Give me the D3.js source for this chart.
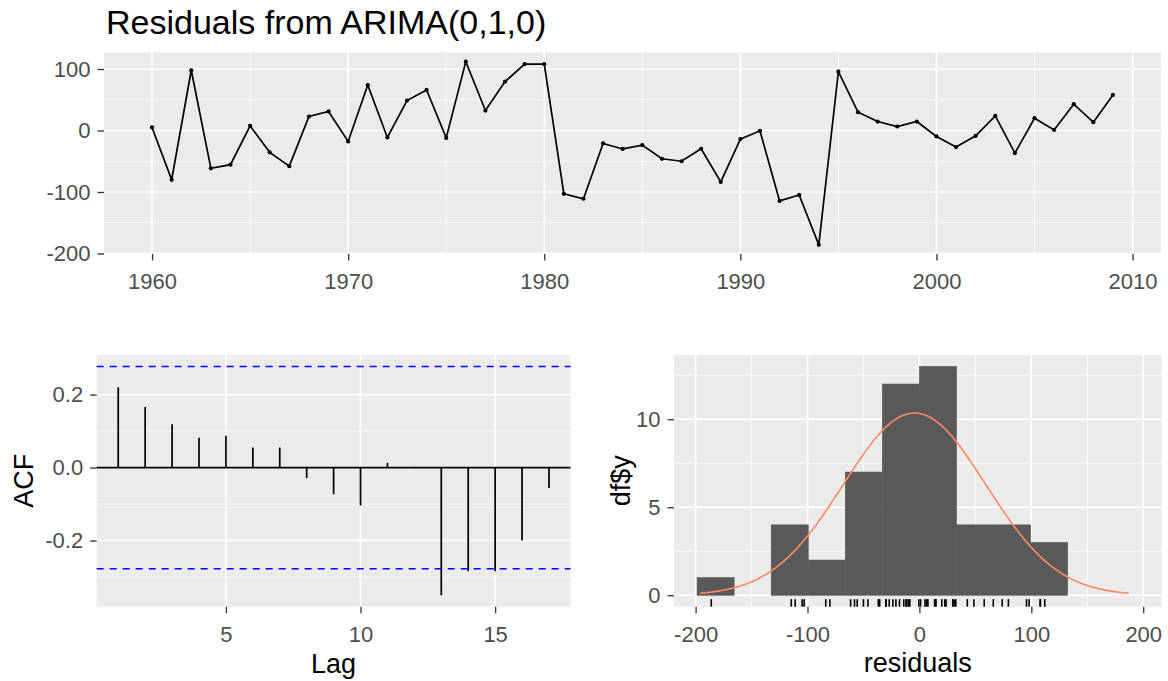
<!DOCTYPE html>
<html>
<head>
<meta charset="utf-8">
<script src="https://cdn.jsdelivr.net/npm/d3@7"></script>
<style>
  body { margin: 0; background: #fff; }
  text { font-family: "Liberation Sans", Arial, sans-serif; }
</style>
</head>
<body>
<svg id="chart" width="1168" height="681"></svg>
<script>
// Residuals from ARIMA(0,1,0), one per year starting 1960
const startYear = 1960;
const residuals = [
  5, -80, 98, -61.5, -55.6, 7.6, -35.5, -58, 22.7, 31,
  -17.8, 74, -11.3, 48.7, 66, -12, 112, 32.5, 79.5, 108,
  108, -103, -111, -21, -30, -23.7, -46, -50, -29.7, -83.7,
  -14, -0.5, -114.5, -104.8, -186, 95.7, 29.8, 14.6, 6.5, 14.6,
  -9.7, -27, -8.6, 23.8, -36.7, 20, 1, 42.8, 13.6, 57.9
];

// ACF of residuals, lags 1..17
const acfLags = [1, 2, 3, 4, 5, 6, 7, 8, 9, 10, 11, 12, 13, 14, 15, 16, 17];
const acfValues = [
  0.22, 0.166, 0.119, 0.082, 0.087, 0.055, 0.055, -0.029, -0.073, -0.104,
  0.013, 0.002, -0.35, -0.284, -0.284, -0.2, -0.056
];

// histogram settings (number of bins over the data range, bins start at 0)
const binCount = 9;
const binBoundary = 0;
const histXLimits = [-219.3, 216.5];

// tick labels
const topXTicks = [1960, 1970, 1980, 1990, 2000, 2010];
const topXMinor = [1965, 1975, 1985, 1995, 2005];
const topYTicks = [-200, -100, 0, 100];
const topYMinor = [-150, -50, 50];
const acfXTicks = [5, 10, 15];
const acfYTicks = [-0.2, 0, 0.2];
const acfYMinor = [-0.3, -0.1, 0.1, 0.3];
const histXTicks = [-200, -100, 0, 100, 200];
const histXMinor = [-150, -50, 50, 150];
const histYTicks = [0, 5, 10];
const histYMinor = [2.5, 7.5, 12.5];

const svg = d3.select("#chart");
svg.append("rect").attr("width", 1168).attr("height", 681).attr("fill", "#fff");

const tickFont = "22px";
const titleFont = "27px";

// ggplot-like 5% expansion
function expand(ext) {
  const pad = (ext[1] - ext[0]) * 0.05;
  return [ext[0] - pad, ext[1] + pad];
}

function drawPanel(box, x, y, xMajor, xMinor, yMajor, yMinor) {
  const g = svg.append("g");
  g.append("rect")
    .attr("x", box.x0).attr("y", box.y0)
    .attr("width", box.x1 - box.x0).attr("height", box.y1 - box.y0)
    .attr("fill", "#EBEBEB");

  // minor grid
  g.selectAll(".hminor").data(yMinor).join("line")
    .attr("x1", box.x0).attr("x2", box.x1)
    .attr("y1", d => y(d)).attr("y2", d => y(d))
    .attr("stroke", "#fff").attr("stroke-width", 0.8);
  g.selectAll(".vminor").data(xMinor).join("line")
    .attr("y1", box.y0).attr("y2", box.y1)
    .attr("x1", d => x(d)).attr("x2", d => x(d))
    .attr("stroke", "#fff").attr("stroke-width", 0.8);
  // major grid
  g.selectAll(".hmajor").data(yMajor).join("line")
    .attr("x1", box.x0).attr("x2", box.x1)
    .attr("y1", d => y(d)).attr("y2", d => y(d))
    .attr("stroke", "#fff").attr("stroke-width", 1.6);
  g.selectAll(".vmajor").data(xMajor).join("line")
    .attr("y1", box.y0).attr("y2", box.y1)
    .attr("x1", d => x(d)).attr("x2", d => x(d))
    .attr("stroke", "#fff").attr("stroke-width", 1.6);

  // axes
  const xAxis = svg.append("g")
    .attr("transform", `translate(0,${box.y1})`)
    .call(d3.axisBottom(x).tickValues(xMajor).tickSize(6.5).tickPadding(13).tickFormat(d3.format("")));
  const yAxis = svg.append("g")
    .attr("transform", `translate(${box.x0},0)`)
    .call(d3.axisLeft(y).tickValues(yMajor).tickSize(6.5).tickPadding(7));
  [xAxis, yAxis].forEach(a => {
    a.select(".domain").remove();
    a.selectAll("line").attr("stroke", "#333").attr("stroke-width", 1.3);
    a.selectAll("text")
      .style("font-size", tickFont)
      .style("font-family", '"Liberation Sans", Arial, sans-serif')
      .attr("fill", "#4D4D4D");
  });
  return { xAxis, yAxis };
}

// ---------- top panel: residual time series ----------
const topBox = { x0: 104, x1: 1161, y0: 52.5, y1: 254 };
const series = residuals.map((v, i) => ({ year: startYear + i, value: v }));
const xTop = d3.scaleLinear()
  .domain(expand(d3.extent(series, d => d.year)))
  .range([topBox.x0, topBox.x1]);
const yTop = d3.scaleLinear()
  .domain(expand(d3.extent(residuals)))
  .range([topBox.y1, topBox.y0]);

const topAxes = drawPanel(topBox, xTop, yTop, topXTicks, topXMinor, topYTicks, topYMinor);
topAxes.yAxis.selectAll("text").text(d => d);

svg.append("path")
  .datum(series)
  .attr("fill", "none")
  .attr("stroke", "#000")
  .attr("stroke-width", 1.7)
  .attr("d", d3.line().x(d => xTop(d.year)).y(d => yTop(d.value)));

svg.append("g").selectAll("circle").data(series).join("circle")
  .attr("cx", d => xTop(d.year))
  .attr("cy", d => yTop(d.value))
  .attr("r", 2.1)
  .attr("fill", "#000");

svg.append("text")
  .attr("x", 106).attr("y", 34)
  .style("font-size", "34px")
  .attr("fill", "#000")
  .text("Residuals from ARIMA(0,1,0)");

// ---------- bottom left: ACF ----------
const acfBox = { x0: 96.7, x1: 570.5, y0: 355, y1: 606.7 };
const ci = 1.96 / Math.sqrt(residuals.length);
const xAcf = d3.scaleLinear()
  .domain(expand(d3.extent(acfLags)))
  .range([acfBox.x0, acfBox.x1]);
const yAcf = d3.scaleLinear()
  .domain(expand([Math.min(d3.min(acfValues), -ci), Math.max(d3.max(acfValues), ci)]))
  .range([acfBox.y1, acfBox.y0]);

const acfAxes = drawPanel(acfBox, xAcf, yAcf, acfXTicks, [], acfYTicks, acfYMinor);
acfAxes.yAxis.selectAll("text").text(d => d3.format(".1f")(d).replace("−", "-"));

svg.append("line")
  .attr("x1", acfBox.x0).attr("x2", acfBox.x1)
  .attr("y1", yAcf(0)).attr("y2", yAcf(0))
  .attr("stroke", "#000").attr("stroke-width", 1.7);

svg.append("g").selectAll("line").data(acfLags).join("line")
  .attr("x1", d => xAcf(d)).attr("x2", d => xAcf(d))
  .attr("y1", yAcf(0))
  .attr("y2", (d, i) => yAcf(acfValues[i]))
  .attr("stroke", "#000").attr("stroke-width", 1.7);

svg.append("g").selectAll("line").data([ci, -ci]).join("line")
  .attr("x1", acfBox.x0).attr("x2", acfBox.x1)
  .attr("y1", d => yAcf(d)).attr("y2", d => yAcf(d))
  .attr("stroke", "#0000FF").attr("stroke-width", 1.6)
  .attr("stroke-dasharray", "7,6");

svg.append("text")
  .attr("x", (acfBox.x0 + acfBox.x1) / 2).attr("y", 673)
  .attr("text-anchor", "middle")
  .style("font-size", titleFont)
  .text("Lag");

svg.append("text")
  .attr("transform", `translate(33,${(acfBox.y0 + acfBox.y1) / 2}) rotate(-90)`)
  .attr("text-anchor", "middle")
  .style("font-size", titleFont)
  .text("ACF");

// ---------- bottom right: histogram ----------
const histBox = { x0: 674, x1: 1161.7, y0: 355, y1: 606.7 };
const [rMin, rMax] = d3.extent(residuals);
const binWidth = (rMax - rMin) / binCount;
const kLo = Math.floor((rMin - binBoundary) / binWidth);
const kHi = Math.ceil((rMax - binBoundary) / binWidth);
const edges = d3.range(kLo, kHi + 1).map(k => binBoundary + k * binWidth);
const bins = d3.bin()
  .domain([edges[0], edges[edges.length - 1]])
  .thresholds(edges.slice(1, -1))(residuals);

const mean = d3.mean(residuals);
const sd = d3.deviation(residuals);
const gMin = Math.min(rMin, mean - 3 * sd);
const gMax = Math.max(rMax, mean + 3 * sd);
const grid = d3.range(512).map(i => gMin + (gMax - gMin) * i / 511);
const dnorm = x => Math.exp(-0.5 * ((x - mean) / sd) ** 2) / (sd * Math.sqrt(2 * Math.PI));
const curve = grid.map(x => ({ x, y: residuals.length * binWidth * dnorm(x) }));

const xHist = d3.scaleLinear().domain(histXLimits).range([histBox.x0, histBox.x1]);
const yHist = d3.scaleLinear()
  .domain(expand([0, d3.max(bins, b => b.length)]))
  .range([histBox.y1, histBox.y0]);

const histAxes = drawPanel(histBox, xHist, yHist, histXTicks, histXMinor, histYTicks, histYMinor);
histAxes.xAxis.selectAll("text").text(d => d);

svg.append("g").selectAll("rect").data(bins.filter(b => b.length > 0)).join("rect")
  .attr("x", d => xHist(d.x0))
  .attr("width", d => xHist(d.x1) - xHist(d.x0))
  .attr("y", d => yHist(d.length))
  .attr("height", d => yHist(0) - yHist(d.length))
  .attr("fill", "#595959")
  .attr("stroke", "#595959")
  .attr("stroke-width", 0.6);

svg.append("path")
  .datum(curve)
  .attr("fill", "none")
  .attr("stroke", "#FF8A62")
  .attr("stroke-width", 1.6)
  .attr("d", d3.line().x(d => xHist(d.x)).y(d => yHist(d.y)));

// rug
const rugLen = (histBox.y1 - histBox.y0) * 0.03;
svg.append("g").selectAll("line").data(residuals).join("line")
  .attr("x1", d => xHist(d)).attr("x2", d => xHist(d))
  .attr("y1", histBox.y1).attr("y2", histBox.y1 - rugLen)
  .attr("stroke", "#000").attr("stroke-width", 1.6);

svg.append("text")
  .attr("x", (histBox.x0 + histBox.x1) / 2).attr("y", 672)
  .attr("text-anchor", "middle")
  .style("font-size", titleFont)
  .text("residuals");

svg.append("text")
  .attr("transform", `translate(630,${(histBox.y0 + histBox.y1) / 2}) rotate(-90)`)
  .attr("text-anchor", "middle")
  .style("font-size", titleFont)
  .text("df$y");
</script>
</body>
</html>
